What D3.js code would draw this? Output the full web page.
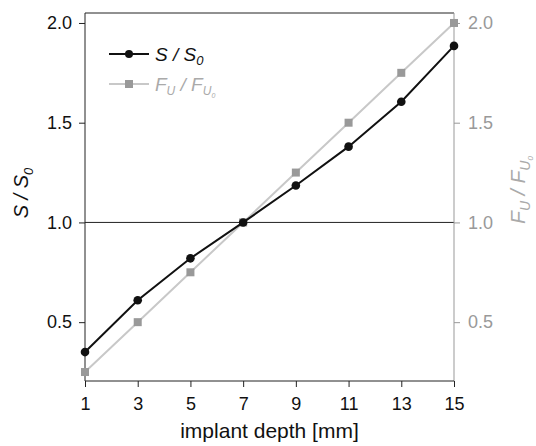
<!DOCTYPE html>
<html>
<head>
<meta charset="utf-8">
<script src="https://cdn.jsdelivr.net/npm/d3@7"></script>
<style>
  body { margin: 0; background: #fff; }
  svg { font-family: "Liberation Sans", Arial, sans-serif; }
</style>
</head>
<body>
<div class="chart"></div>
<script>
const depth = [1, 3, 5, 7, 9, 11, 13, 15]
const sRatio = [0.35, 0.61, 0.82, 1.0, 1.185, 1.38, 1.605, 1.885]
const fRatio = [0.25, 0.5, 0.75, 1.0, 1.25, 1.5, 1.75, 2.0]
const yTicks = [0.5, 1.0, 1.5, 2.0]

const width = 536
const height = 446
const margin = { top: 13, right: 82, bottom: 65, left: 85 }

const svg = d3.select(".chart").append("svg")
    .attr("width", width)
    .attr("height", height)

const x = d3.scaleLinear().domain([1, 15]).range([margin.left, width - margin.right])
const y = d3.scaleLinear().domain([0.205, 2.05]).range([height - margin.bottom, margin.top])

const dark = "#222"
const grey = "#999"
const light = "#c8c8c8"

// frame (top spine)
svg.append("line")
    .attr("x1", x(1)).attr("x2", x(15))
    .attr("y1", y.range()[1]).attr("y2", y.range()[1])
    .style("stroke", dark).style("stroke-width", 1)

// reference line at 1.0
svg.append("line")
    .attr("x1", x(1)).attr("x2", x(15))
    .attr("y1", y(1)).attr("y2", y(1))
    .style("stroke", dark).style("stroke-width", 1)

// left axis
const yLeft = svg.append("g")
    .attr("transform", "translate(" + x(1) + ",0)")
    .call(d3.axisLeft(y).tickValues(yTicks).tickFormat(d3.format(".1f")).tickSize(6).tickPadding(7))
yLeft.selectAll("text").style("font-size", "18px").style("fill", "#111")
yLeft.selectAll("line, path").style("stroke", dark)
yLeft.select(".domain").attr("d", "M0," + y.range()[0] + "V" + y.range()[1])

// right axis
const yRight = svg.append("g")
    .attr("transform", "translate(" + x(15) + ",0)")
    .call(d3.axisRight(y).tickValues(yTicks).tickFormat(d3.format(".1f")).tickSize(6).tickPadding(8))
yRight.selectAll("text").style("font-size", "18px").style("fill", grey)
yRight.selectAll("line, path").style("stroke", grey)
yRight.select(".domain").attr("d", "M0," + y.range()[0] + "V" + y.range()[1])

// bottom axis
const xAxis = svg.append("g")
    .attr("transform", "translate(0," + y.range()[0] + ")")
    .call(d3.axisBottom(x).tickValues(depth).tickSize(6).tickPadding(10))
xAxis.selectAll("text").style("font-size", "18px").style("fill", "#111")
xAxis.selectAll("line, path").style("stroke", dark)
xAxis.select(".domain").attr("d", "M" + x(1) + ",0H" + x(15))

// F_U / F_U0 series
const lineF = d3.line().x((d, i) => x(depth[i])).y(d => y(d))
svg.append("path")
    .attr("d", lineF(fRatio))
    .style("fill", "none").style("stroke", light).style("stroke-width", 2)
svg.selectAll(".fMark")
    .data(fRatio)
    .enter()
    .append("rect")
    .attr("class", "fMark")
    .attr("x", (d, i) => x(depth[i]) - 4)
    .attr("y", d => y(d) - 4)
    .attr("width", 8).attr("height", 8)
    .style("fill", grey)

// S / S0 series
svg.append("path")
    .attr("d", lineF(sRatio))
    .style("fill", "none").style("stroke", "#111").style("stroke-width", 2)
svg.selectAll(".sMark")
    .data(sRatio)
    .enter()
    .append("circle")
    .attr("class", "sMark")
    .attr("cx", (d, i) => x(depth[i]))
    .attr("cy", d => y(d))
    .attr("r", 4.3)
    .style("fill", "#111")

// legend
const legend = svg.append("g").attr("transform", "translate(109,54)")
legend.append("line").attr("x1", 0).attr("x2", 40).attr("y1", 0).attr("y2", 0)
    .style("stroke", "#111").style("stroke-width", 2)
legend.append("circle").attr("cx", 20).attr("cy", 0).attr("r", 4).style("fill", "#111")
const t1 = legend.append("text").attr("x", 46).attr("y", 7)
    .style("font-size", "19px").style("font-style", "italic").style("fill", "#111")
t1.append("tspan").text("S / S")
t1.append("tspan").text("0").attr("dy", 4).style("font-size", "13px")

legend.append("line").attr("x1", 0).attr("x2", 40).attr("y1", 30).attr("y2", 30)
    .style("stroke", light).style("stroke-width", 2)
legend.append("rect").attr("x", 16).attr("y", 26).attr("width", 8).attr("height", 8).style("fill", grey)
const t2 = legend.append("text").attr("x", 46).attr("y", 37)
    .style("font-size", "19px").style("font-style", "italic").style("fill", "#aaa")
t2.append("tspan").text("F")
t2.append("tspan").text("U").attr("dy", 4).style("font-size", "12px")
t2.append("tspan").text(" / F").attr("dy", -4)
t2.append("tspan").text("U").attr("dy", 4).style("font-size", "12px")
t2.append("tspan").text("0").attr("dy", 3).style("font-size", "7px")

// axis titles
svg.append("text")
    .attr("x", (x(1) + x(15)) / 2)
    .attr("y", 438)
    .attr("text-anchor", "middle")
    .style("font-size", "21px").style("fill", "#111")
    .text("implant depth [mm]")

const yl = svg.append("text")
    .attr("transform", "translate(28,193) rotate(-90)")
    .attr("text-anchor", "middle")
    .style("font-size", "20px").style("font-style", "italic").style("fill", "#111")
yl.append("tspan").text("S / S")
yl.append("tspan").text("0").attr("dy", 5).style("font-size", "13px")

const yr = svg.append("text")
    .attr("transform", "translate(525,190) rotate(-90)")
    .attr("text-anchor", "middle")
    .style("font-size", "21px").style("font-style", "italic").style("fill", "#aaa")
yr.append("tspan").text("F")
yr.append("tspan").text("U").attr("dy", 5).style("font-size", "14px")
yr.append("tspan").text(" / F").attr("dy", -5)
yr.append("tspan").text("U").attr("dy", 5).style("font-size", "14px")
yr.append("tspan").text("0").attr("dy", 3).style("font-size", "8px")
</script>
</body>
</html>
